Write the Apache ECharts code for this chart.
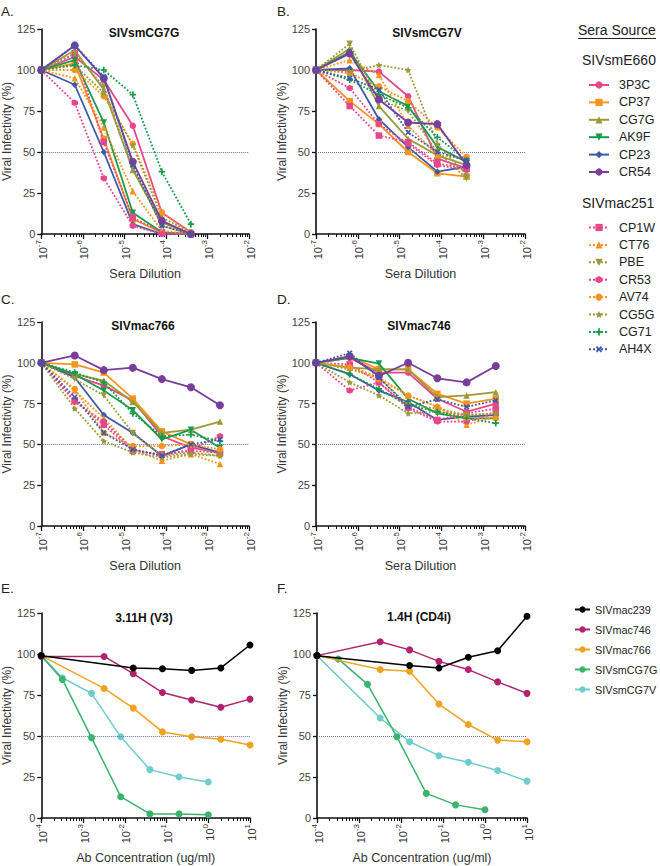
<!DOCTYPE html>
<html><head><meta charset="utf-8">
<script src="https://cdn.jsdelivr.net/npm/echarts@6/dist/echarts.min.js"></script>
<style>html,body{margin:0;padding:0;background:#fff}#c{width:660px;height:866px}</style>
</head><body><div id="c"></div>
<script>
// ---------------- DATA ----------------
const seraNames = ['3P3C','CP37','CG7G','AK9F','CP23','CR54','CP1W','CT76','PBE','CR53','AV74','CG5G','CG71','AH4X'];
const seraGroupE660 = ['3P3C','CP37','CG7G','AK9F','CP23','CR54'];
const seraGroupMac251 = ['CP1W','CT76','PBE','CR53','AV74','CG5G','CG71','AH4X'];
const dilutionsAB = [1e-7, 6.4e-7, 3.2e-6, 1.6e-5, 8e-5, 4e-4];
const dilutionsCD = [1e-7, 6.4e-7, 3.2e-6, 1.6e-5, 8e-5, 4e-4, 2e-3];

// rows follow seraNames order
const panelA_SIVsmCG7G = [
  [100, 108, 94, 66, 13, 1],
  [100, 104, 58, 9, 1, 0],
  [100, 112, 88, 39, 7, 0],
  [100, 106, 68, 13, 1, 0],
  [100, 91, 50, 6, 0, 0],
  [100, 115, 95, 44, 8, 0],
  [100, 110, 56, 10, 1, 0],
  [100, 95, 65, 26, 2, 0],
  [100, 110, 90, 40, 5, 0],
  [100, 80, 34, 5, 0, 0],
  [100, 100, 84, 55, 13, 1],
  [100, 103, 86, 54, 10, 1],
  [100, 103, 100, 85, 38, 6],
  [100, 115, 96, 42, 5, 0]
];
const panelB_SIVsmCG7V = [
  [100, 100, 99, 84, 46, 40],
  [100, 81, 67, 50, 37, 35],
  [100, 113, 78, 58, 48, 42],
  [100, 111, 87, 78, 53, 44],
  [100, 101, 70, 53, 38, 41],
  [100, 110, 82, 68, 67, 42],
  [100, 78, 60, 56, 43, 40],
  [100, 106, 97, 66, 48, 46],
  [100, 116, 82, 75, 50, 34],
  [100, 89, 67, 55, 42, 39],
  [100, 98, 90, 81, 65, 47],
  [100, 99, 103, 100, 55, 36],
  [100, 94, 85, 77, 59, 45],
  [100, 95, 88, 62, 50, 45]
];
const panelC_SIVmac766 = [
  [100, 92, 86, 77, 55, 48, 45],
  [100, 99, 94, 78, 58, 50, 44],
  [100, 93, 89, 76, 57, 59, 64],
  [100, 93, 83, 71, 53, 59, 48],
  [100, 91, 68, 57, 43, 50, 45],
  [100, 104.5, 95.5, 97, 90, 85, 74],
  [100, 77, 62, 46, 44, 46, 45],
  [100, 83, 66, 47, 40, 44, 38],
  [100, 90, 80, 57, 43, 45, 43],
  [100, 76, 64, 47, 43, 47, 55],
  [100, 84, 57, 49, 49, 50, 47],
  [100, 72, 52, 45, 42, 44, 43],
  [100, 94, 88, 69, 55, 56, 52],
  [100, 79, 57, 47, 43, 50, 53]
];
const panelD_SIVmac746 = [
  [100, 103, 94, 94, 78, 70, 75],
  [100, 104, 96, 96, 81, 75, 78],
  [100, 97, 96, 96, 79, 80, 82],
  [100, 103, 99.5, 78, 69, 66, 66],
  [100, 93, 83, 76, 65, 67, 68],
  [100, 104, 92, 100, 90.5, 88, 98],
  [100, 99, 88, 73, 65, 69, 72],
  [100, 98, 91, 80, 73, 62, 67],
  [100, 96, 91, 74, 72, 68, 69],
  [100, 83, 88, 72, 64, 64, 69],
  [100, 97, 90, 80, 73, 66, 66],
  [100, 88, 80, 69, 70, 68, 69],
  [100, 93, 84, 74, 70, 66, 63],
  [100, 106, 91, 73, 77.6, 73, 77]
];

const virusNames = ['SIVmac239','SIVmac746','SIVmac766','SIVsmCG7G','SIVsmCG7V'];
const concFrom10 = [1e-4, 3.2e-3, 0.016, 0.08, 0.4, 2, 10];
const concFrom1 = [1e-4, 3.2e-4, 1.6e-3, 8e-3, 0.04, 0.2, 1];
const panelE_311H_conc = [concFrom10, concFrom10, concFrom10, concFrom1, concFrom1];
const panelE_311H = [
  [99, null, 91.5, 91, 90, 91.5, 105.5],
  [98.5, 98.5, 88, 76.5, 72, 67.5, 72.5],
  [99, 79, 67, 52.5, 49.5, 48, 44.5],
  [99, 84.5, 49, 13, 2.5, 2.5, 2],
  [99, 85.5, 76, 49.5, 29.5, 25, 22]
];
const panelF_14H_conc = [concFrom10, concFrom10, concFrom10, concFrom1, concFrom10];
const panelF_14H = [
  [99, null, 93, 91.5, 98, 102, 123],
  [99, 107.5, 102.5, 95.5, 90.5, 83, 76],
  [99, 90.5, 89.5, 69.5, 57, 47.5, 46.5],
  [99, 97, 81.5, 49.5, 15, 8, 5],
  [99, 61, 46.5, 38, 34, 29, 22.5]
];
const seraDecades = [-7, -6, -5, -4, -3, -2];
const abDecades = [-4, -3, -2, -1, 0, 1];
const yTicks = [0, 25, 50, 75, 100, 125];

// ---------------- STYLE ----------------
const FONT = 'Liberation Sans, Arial, Helvetica, sans-serif';
const PINK = '#E8468C', ORANGE = '#F7941E', OLIVE = '#9A9A38', GREEN = '#189A4C', BLUE = '#3C5AA8', PURPLE = '#7A3D9A';
const STAR = 'path://M0,-10 L2.9,-4 9.5,-3.1 4.7,1.5 5.9,8.1 0,5 -5.9,8.1 -4.7,1.5 -9.5,-3.1 -2.9,-4Z';
const PLUS = 'path://M-2,-8 L2,-8 2,-2 8,-2 8,2 2,2 2,8 -2,8 -2,2 -8,2 -8,-2 -2,-2Z';
const HEX = 'path://M0,-10 L8.66,-5 8.66,5 0,10 -8.66,5 -8.66,-5Z';
const seraStyle = {
  '3P3C': {c: PINK, s: 'circle', z: 6},
  'CP37': {c: ORANGE, s: 'rect', z: 6},
  'CG7G': {c: OLIVE, s: 'triangle', z: 7},
  'AK9F': {c: GREEN, s: 'triangle', r: 180, z: 7},
  'CP23': {c: BLUE, s: 'diamond', z: 6},
  'CR54': {c: PURPLE, s: 'circle', z: 8},
  'CP1W': {c: PINK, s: 'rect', z: 7, d: 1},
  'CT76': {c: ORANGE, s: 'triangle', z: 7, d: 1},
  'PBE':  {c: OLIVE, s: 'triangle', r: 180, z: 7, d: 1},
  'CR53': {c: PINK, s: HEX, z: 7, d: 1},
  'AV74': {c: ORANGE, s: 'circle', z: 7, d: 1},
  'CG5G': {c: OLIVE, s: STAR, z: 7, d: 1},
  'CG71': {c: GREEN, s: PLUS, z: 7, d: 1},
  'AH4X': {c: BLUE, s: PLUS, r: 45, z: 8, d: 1}
};
const virusColor = {SIVmac239: '#000000', SIVmac746: '#B1236E', SIVmac766: '#F0A323', SIVsmCG7G: '#3BB36C', SIVsmCG7V: '#6DCDCA'};

const grids = [
  {left: 40, top: 29, width: 209, height: 205},
  {left: 316, top: 29, width: 209, height: 205},
  {left: 40, top: 322, width: 209, height: 204},
  {left: 316, top: 322, width: 209, height: 204},
  {left: 39, top: 613, width: 211, height: 205},
  {left: 317, top: 613, width: 210, height: 205}
];

function minorTicks(decades) {
  const out = [];
  for (let i = 0; i < decades.length - 1; i++)
    for (let k = 2; k <= 9; k++) out.push(decades[i] + Math.log10(k));
  return out;
}

const xAxes = [], yAxes = [], series = [];
grids.forEach((g, gi) => {
  const dec = gi < 4 ? seraDecades : abDecades;
  const name = gi < 4 ? 'Sera Dilution' : 'Ab Concentration (ug/ml)';
  xAxes.push({type: 'log', logBase: 10, gridIndex: gi, min: Math.pow(10, dec[0]), max: Math.pow(10, dec[dec.length - 1]), show: false});
  xAxes.push({
    type: 'value', gridIndex: gi, position: 'bottom', min: dec[0], max: dec[dec.length - 1], interval: 1,
    axisLine: {show: true, onZero: false, lineStyle: {color: '#111', width: 1.6}},
    axisTick: {show: true, length: 5, lineStyle: {color: '#111', width: 1.3}},
    axisLabel: {rotate: 90, margin: 6, formatter: v => '{b|10}{s|' + v + '}',
      rich: {b: {fontSize: 11, fontFamily: FONT, color: '#333', verticalAlign: 'bottom', lineHeight: 14},
             s: {fontSize: 8, fontFamily: FONT, color: '#333', verticalAlign: 'top', lineHeight: 9}}},
    splitLine: {show: false},
    name: name, nameLocation: 'middle', nameGap: 33,
    nameTextStyle: {fontSize: 12.5, fontFamily: FONT, color: '#333'}
  });
  xAxes.push({
    type: 'value', gridIndex: gi, position: 'bottom', min: dec[0], max: dec[dec.length - 1],
    axisLine: {show: false, onZero: false},
    axisTick: {show: true, length: 3, customValues: minorTicks(dec), lineStyle: {color: '#111', width: 1}},
    axisLabel: {show: false}, splitLine: {show: false}
  });
  yAxes.push({
    type: 'value', gridIndex: gi, min: 0, max: 125, interval: 25, position: 'left',
    axisLine: {show: true, onZero: false, lineStyle: {color: '#111', width: 1.6}},
    axisTick: {show: true, length: 4, lineStyle: {color: '#111', width: 1.3}},
    axisLabel: {fontSize: 11, fontFamily: FONT, color: '#444', margin: 6,
      formatter: v => (yTicks.indexOf(v) >= 0 ? String(v) : '')},
    splitLine: {show: false},
    name: 'Viral Infectivity (%)', nameLocation: 'middle', nameGap: 25,
    nameTextStyle: {fontSize: 12, fontFamily: FONT, color: '#333'}
  });
});

const refLine = {
  silent: true, symbol: ['none', 'none'], label: {show: false}, animation: false,
  lineStyle: {color: '#5563AA', width: 1, type: 'dotted', opacity: 0.9},
  emphasis: {disabled: true}, data: [{yAxis: 50}]
};

function addSera(gi, dil, rows) {
  rows.forEach((vals, i) => {
    const nm = seraNames[i], st = seraStyle[nm];
    series.push({
      type: 'line', name: nm, xAxisIndex: gi * 3, yAxisIndex: gi,
      data: vals.map((v, j) => [dil[j], v]),
      symbol: st.s, symbolSize: nm === 'CR54' ? 8 : 6.5, symbolRotate: st.r || 0,
      lineStyle: {color: st.c, width: 1.8, type: st.d ? 'dotted' : 'solid'},
      itemStyle: {color: st.c}, z: st.z, clip: false, animation: false,
      emphasis: {disabled: true},
      markLine: i === 0 ? refLine : undefined
    });
  });
}
addSera(0, dilutionsAB, panelA_SIVsmCG7G);
addSera(1, dilutionsAB, panelB_SIVsmCG7V);
addSera(2, dilutionsCD, panelC_SIVmac766);
addSera(3, dilutionsCD, panelD_SIVmac746);

function addAb(gi, concs, rows) {
  rows.forEach((vals, i) => {
    const nm = virusNames[i];
    series.push({
      type: 'line', name: nm, xAxisIndex: gi * 3, yAxisIndex: gi,
      data: vals.map((v, j) => [concs[i][j], v]).filter(d => d[1] !== null),
      symbol: 'circle', symbolSize: 7,
      lineStyle: {color: virusColor[nm], width: 1.5},
      itemStyle: {color: virusColor[nm]}, z: 8 - i, clip: false, animation: false,
      emphasis: {disabled: true},
      markLine: i === 0 ? refLine : undefined
    });
  });
}
addAb(4, panelE_311H_conc, panelE_311H);
addAb(5, panelF_14H_conc, panelF_14H);

function txt(text, x, y, size, opts) {
  opts = opts || {};
  return {type: 'text', x: x, y: y, silent: true, z: 100,
    style: {text: text, fontSize: size, fontFamily: FONT, fontWeight: opts.bold ? 'bold' : 'normal',
      fill: opts.color || '#222', align: opts.align || 'left', verticalAlign: 'middle'}};
}
const graphics = [
  txt('A.', 1, 11, 13.5), txt('B.', 277, 11, 13.5), txt('C.', 1, 299, 13.5), txt('D.', 277, 299, 13.5),
  txt('E.', 1, 588, 13.5), txt('F.', 277, 588, 13.5),
  txt('SIVsmCG7G', 144, 33, 12, {bold: 1, align: 'center', color: '#111'}),
  txt('SIVsmCG7V', 427, 33, 12, {bold: 1, align: 'center', color: '#111'}),
  txt('SIVmac766', 143, 326, 12, {bold: 1, align: 'center', color: '#111'}),
  txt('SIVmac746', 419, 326, 12, {bold: 1, align: 'center', color: '#111'}),
  txt('3.11H (V3)', 144, 618, 12, {bold: 1, align: 'center', color: '#111'}),
  txt('1.4H (CD4i)', 419, 617, 12, {bold: 1, align: 'center', color: '#111'}),
  txt('Sera Source', 578, 30, 14),
  {type: 'line', silent: true, shape: {x1: 578, y1: 38.5, x2: 656, y2: 38.5}, style: {stroke: '#222', lineWidth: 1}},
  txt('SIVsmE660', 582, 60, 14),
  txt('SIVmac251', 582, 203, 14)
];

const legendBase = {
  orient: 'vertical', itemWidth: 20, itemHeight: 9, itemGap: 4.4, selectedMode: false,
  textStyle: {fontSize: 12.5, fontFamily: FONT, color: '#222', lineHeight: 13, padding: [0, 0, 0, 5]}
};
const chart = echarts.init(document.getElementById('c'), null, {renderer: 'svg', width: 660, height: 866});
chart.setOption({
  animation: false,
  backgroundColor: '#fff',
  grid: grids,
  xAxis: xAxes,
  yAxis: yAxes,
  legend: [
    Object.assign({}, legendBase, {data: seraGroupE660, left: 583, top: 73.5}),
    Object.assign({}, legendBase, {data: seraGroupMac251, left: 583, top: 216}),
    {orient: 'vertical', data: virusNames, left: 569, top: 598.5, itemWidth: 15, itemHeight: 8, itemGap: 8,
     selectedMode: false, textStyle: {fontSize: 10.8, fontFamily: FONT, color: '#222', lineHeight: 12}}
  ],
  graphic: graphics,
  series: series
});
</script></body></html>
